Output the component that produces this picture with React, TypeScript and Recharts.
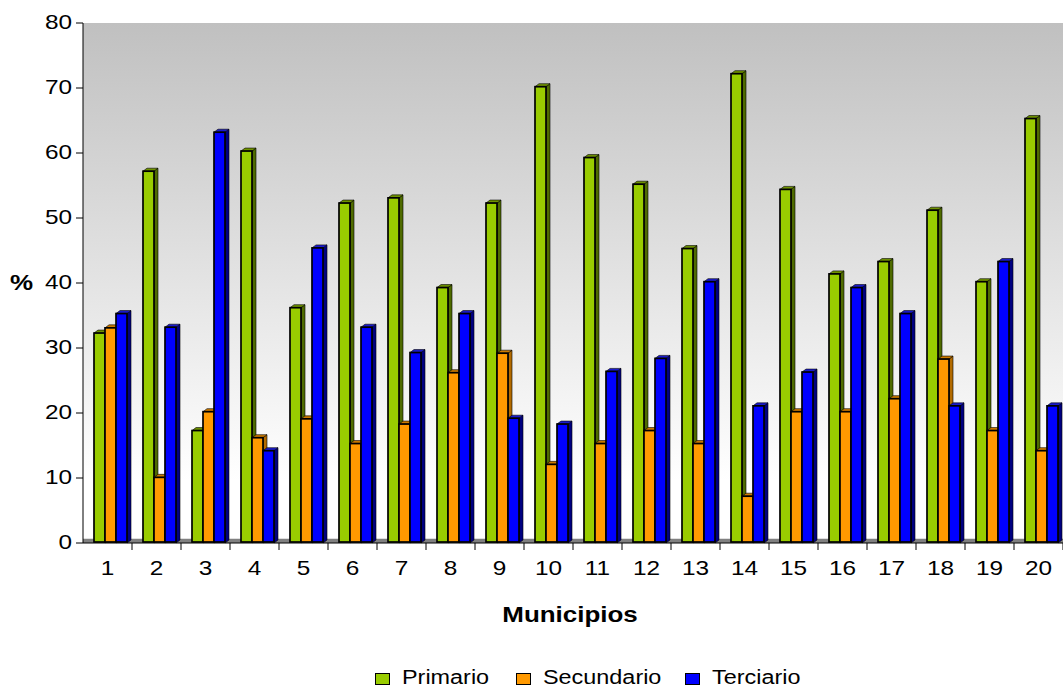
import { BarChart, Bar, XAxis, YAxis, CartesianGrid, ReferenceArea, Label } from "recharts";

const municipios = ["1", "2", "3", "4", "5", "6", "7", "8", "9", "10", "11", "12", "13", "14", "15", "16", "17", "18", "19", "20"];
const primario = [32.3, 57.2, 17.3, 60.3, 36.2, 52.3, 53.1, 39.3, 52.3, 70.2, 59.3, 55.2, 45.3, 72.2, 54.4, 41.4, 43.3, 51.2, 40.2, 65.3];
const secundario = [33.1, 10.1, 20.2, 16.2, 19.1, 15.3, 18.3, 26.2, 29.2, 12.1, 15.3, 17.3, 15.3, 7.2, 20.2, 20.2, 22.2, 28.3, 17.3, 14.2];
const terciario = [35.3, 33.2, 63.2, 14.2, 45.4, 33.2, 29.3, 35.3, 19.2, 18.3, 26.4, 28.4, 40.2, 21.1, 26.3, 39.3, 35.3, 21.1, 43.3, 21.1];
const yTicks = [0, 10, 20, 30, 40, 50, 60, 70, 80];

const data = municipios.map((m, i) => ({
  m,
  primario: primario[i],
  secundario: secundario[i],
  terciario: terciario[i],
}));

const FONT = '"Liberation Sans", Arial, sans-serif';
const STRETCH = 1.16;
const BAND = (1063 - 83) / municipios.length;

// front face + right side + top, a fake 3D column
const make3D = (sideColor: string, topColor: string) => (props: any) => {
  const { x, y, width, height, fill } = props;
  if (height == null || height <= 0) return <g />;
  const X = x + 3;
  const dx = 4;
  const dy = -3;
  return (
    <g>
      <polygon
        points={`${X + width},${y} ${X + width + dx},${y + dy} ${X + width + dx},${y + height + dy} ${X + width},${y + height}`}
        fill={sideColor}
        stroke="#000"
        strokeWidth={0.6}
      />
      <polygon
        points={`${X},${y} ${X + dx},${y + dy} ${X + width + dx},${y + dy} ${X + width},${y}`}
        fill={topColor}
        stroke="#000"
        strokeWidth={0.6}
      />
      <rect x={X} y={y} width={width} height={height - 1} fill={fill} stroke="#000" strokeWidth={1.7} />
    </g>
  );
};

const XTick = (props: any) => {
  const { x, y, payload } = props;
  return (
    <g>
      <line x1={x + BAND / 2} y1={y} x2={x + BAND / 2} y2={y + 7} stroke="#000" strokeWidth={1} />
      <text
        transform={`translate(${x},${y + 26}) scale(${STRETCH},1)`}
        textAnchor="middle"
        dominantBaseline="middle"
        fontSize={21}
        fontFamily={FONT}
        fill="#000"
      >
        {payload.value}
      </text>
    </g>
  );
};

const YTick = (props: any) => {
  const { x, y, payload } = props;
  return (
    <text
      transform={`translate(${x},${y}) scale(${STRETCH},1)`}
      textAnchor="end"
      dominantBaseline="middle"
      fontSize={21}
      fontFamily={FONT}
      fill="#000"
    >
      {payload.value}
    </text>
  );
};

const legendItems = [
  { name: "Primario", color: "#99cc00", left: 375 },
  { name: "Secundario", color: "#ff9900", left: 516 },
  { name: "Terciario", color: "#0000ff", left: 685 },
];

export default function App() {
  return (
    <div style={{ position: "absolute", left: 0, top: 0, width: 1063, height: 686, background: "#fff", fontFamily: FONT, overflow: "hidden" }}>
      <BarChart
        width={1063}
        height={640}
        data={data}
        margin={{ top: 23, right: 0, left: 0, bottom: 0 }}
        barGap={0}
        barSize={11}
      >
        <defs>
          <linearGradient id="plotBg" x1="0" y1="0" x2="0" y2="1">
            <stop offset="0%" stopColor="#c0c0c0" />
            <stop offset="88%" stopColor="#ffffff" />
            <stop offset="100%" stopColor="#ffffff" />
          </linearGradient>
        </defs>
        <CartesianGrid horizontal={false} vertical={false} fill="url(#plotBg)" fillOpacity={1} stroke="none" />
        <ReferenceArea y1={0} y2={0.65} fill="#808080" fillOpacity={1} stroke="none" />
        <XAxis
          dataKey="m"
          interval={0}
          height={97}
          tickSize={0}
          tickMargin={0}
          tickLine={false}
          tick={<XTick />}
          axisLine={{ stroke: "#000", strokeWidth: 1 }}
        >
          <Label
            content={(p: any) => {
              const vb = p.viewBox;
              return (
                <text
                  transform={`translate(${vb.x + vb.width / 2 - 3},${vb.y + 73}) scale(1.18,1)`}
                  textAnchor="middle"
                  dominantBaseline="middle"
                  fontSize={22}
                  fontWeight="bold"
                  fontFamily={FONT}
                  fill="#000"
                >
                  Municipios
                </text>
              );
            }}
          />
        </XAxis>
        <YAxis
          width={83}
          domain={[0, 80]}
          ticks={yTicks}
          interval={0}
          tickSize={7}
          tickMargin={4}
          tick={<YTick />}
          tickLine={{ stroke: "#000" }}
          axisLine={{ stroke: "#000", strokeWidth: 1 }}
        >
          <Label
            content={(p: any) => {
              const vb = p.viewBox;
              return (
                <text
                  transform={`translate(${vb.x + 10},${vb.y + vb.height / 2 + 1}) scale(1.18,1)`}
                  textAnchor="start"
                  dominantBaseline="middle"
                  fontSize={22}
                  fontWeight="bold"
                  fontFamily={FONT}
                  fill="#000"
                >
                  %
                </text>
              );
            }}
          />
        </YAxis>
        <Bar dataKey="primario" fill="#99cc00" isAnimationActive={false} shape={make3D("#4f6b00", "#6f9200")} />
        <Bar dataKey="secundario" fill="#ff9900" isAnimationActive={false} shape={make3D("#b36b00", "#cc7a00")} />
        <Bar dataKey="terciario" fill="#0000ff" isAnimationActive={false} shape={make3D("#000080", "#1a1acc")} />
      </BarChart>
      {legendItems.map((it) => (
        <div key={it.name} style={{ position: "absolute", top: 665, left: it.left, height: 24, display: "flex", alignItems: "center", whiteSpace: "nowrap" }}>
          <div style={{ width: 13, height: 10, marginTop: 3, background: it.color, border: "1px solid #000" }} />
          <div style={{ fontSize: 20, marginLeft: 12, transform: `scaleX(1.17)`, transformOrigin: "left center" }}>
            {it.name}
          </div>
        </div>
      ))}
    </div>
  );
}
